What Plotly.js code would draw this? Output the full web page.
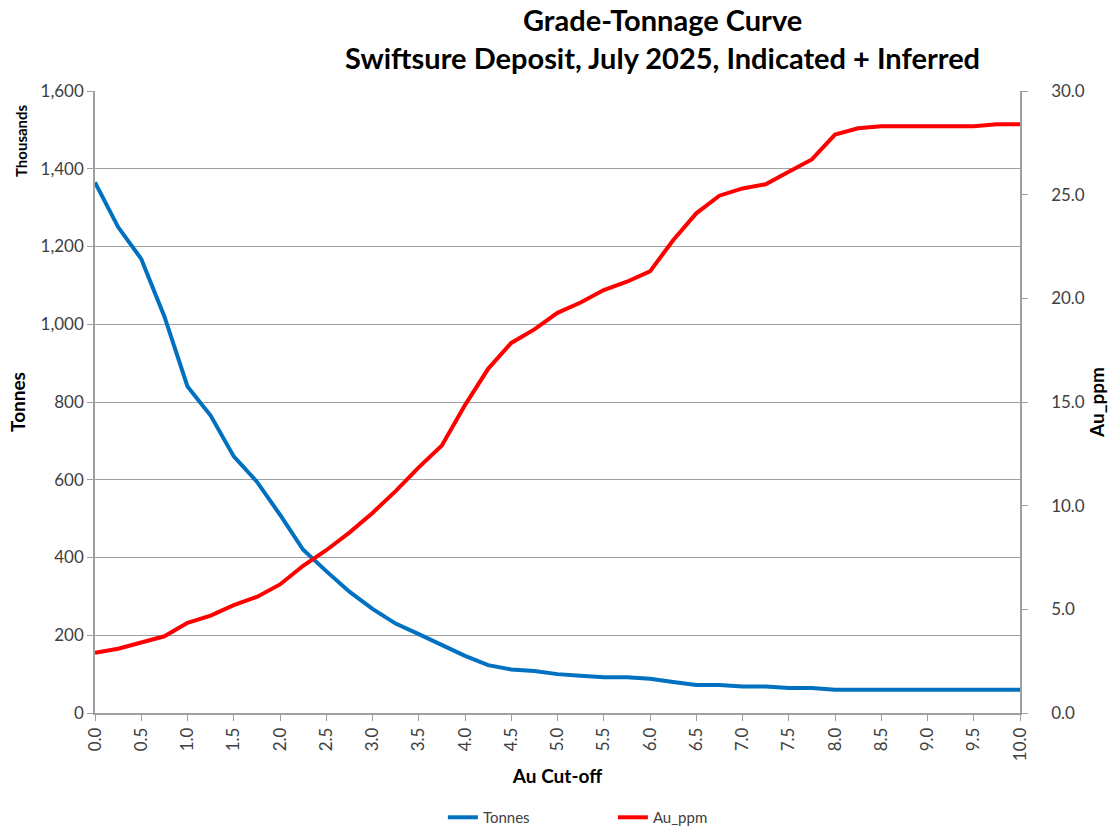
<!DOCTYPE html>
<html>
<head>
<meta charset="utf-8">
<script src="https://cdn.plot.ly/plotly-3.0.1.min.js"></script>
<style>body{margin:0;padding:0;background:#fff}#chart{width:1110px;height:830px}</style>
</head>
<body>
<div id="chart"></div>
<script>
const cutoff = [0.0,0.25,0.5,0.75,1.0,1.25,1.5,1.75,2.0,2.25,2.5,2.75,3.0,3.25,3.5,3.75,4.0,4.25,4.5,4.75,5.0,5.25,5.5,5.75,6.0,6.25,6.5,6.75,7.0,7.25,7.5,7.75,8.0,8.25,8.5,8.75,9.0,9.25,9.5,9.75,10.0];
const tonnesThousands = [1365,1250,1168,1020,840,765,660,595,510,420,365,312,268,230,203,175,147,123,112,108,100,96,92,92,88,80,72,72,68,68,64,64,60,60,60,60,60,60,60,60,60];
const auPpm = [2.9,3.1,3.4,3.7,4.35,4.7,5.2,5.6,6.2,7.1,7.85,8.7,9.65,10.7,11.85,12.9,14.85,16.6,17.85,18.5,19.3,19.8,20.4,20.8,21.3,22.8,24.1,24.95,25.3,25.5,26.1,26.7,27.9,28.2,28.3,28.3,28.3,28.3,28.3,28.4,28.4];
const titleLines = ["Grade-Tonnage Curve","Swiftsure Deposit, July 2025, Indicated + Inferred"];

const FONT = "Lato, 'Open Sans', sans-serif";
const traces = [
  {x: cutoff, y: tonnesThousands, name: "Tonnes", type: "scatter", mode: "lines",
   line: {color: "#0070C0", width: 4}, yaxis: "y"},
  {x: cutoff, y: auPpm, name: "Au_ppm", type: "scatter", mode: "lines",
   line: {color: "#FF0000", width: 4}, yaxis: "y2"}
];
const titleFont = {family: FONT, size: 29, color: "#000", weight: "bold"};
const axisTitleFont = {family: FONT, size: 19, color: "#000", weight: "bold"};
const tickFont = {family: FONT, size: 17, color: "#404040"};
const layout = {
  width: 1110, height: 830,
  margin: {l: 95, r: 90, t: 91, b: 117, autoexpand: false},
  paper_bgcolor: "#fff", plot_bgcolor: "#fff",
  font: {family: FONT, color: "#404040", size: 14},
  showlegend: true,
  legend: {orientation: "h", x: 0.3761, xanchor: "left", xref: "paper",
           yref: "container", y: 0.015, yanchor: "middle",
           entrywidth: 125, entrywidthmode: "pixels",
           font: {family: FONT, size: 15, color: "#404040"}},
  xaxis: {range: [0, 10], tickmode: "linear", tick0: 0, dtick: 0.5, tickformat: ".1f",
          tickangle: -90, ticks: "outside", ticklen: 6, tickcolor: "#a0a0a0",
          showline: true, linecolor: "#a0a0a0", linewidth: 1.5, showgrid: false, zeroline: false,
          tickfont: tickFont,
          title: {text: "Au Cut-off", font: axisTitleFont, standoff: 10}},
  yaxis: {range: [0, 1600], dtick: 200, tickformat: ",d", ticks: "outside", ticklen: 6, tickcolor: "#a0a0a0",
          showline: true, linecolor: "#a0a0a0", linewidth: 1.5, showgrid: true, gridcolor: "#a0a0a0", gridwidth: 1.2,
          zeroline: false, tickfont: tickFont,
          title: {text: "Tonnes", font: axisTitleFont, standoff: 10}},
  yaxis2: {range: [0, 30], dtick: 5, tickformat: ".1f", overlaying: "y", side: "right",
           ticks: "outside", ticklen: 6, tickcolor: "#a0a0a0", showline: true, linecolor: "#a0a0a0", linewidth: 1.5,
           ticklabelstandoff: 20,
           showgrid: false, zeroline: false, tickfont: tickFont,
           title: {text: "Au_ppm", font: axisTitleFont, standoff: 4}},
  annotations: [
    {text: titleLines[0], xref: "paper", yref: "paper", x: 0.6135, y: (713 - 19) / 622, xanchor: "center", yanchor: "middle",
     showarrow: false, font: titleFont},
    {text: titleLines[1], xref: "paper", yref: "paper", x: 0.6135, y: (713 - 58) / 622, xanchor: "center", yanchor: "middle",
     showarrow: false, font: titleFont},
    {text: "<b>Thousands</b>", xref: "paper", yref: "paper", x: -0.080, y: (713 - 141) / 622, xanchor: "center", yanchor: "middle",
     textangle: -90, showarrow: false, font: {family: FONT, size: 15, color: "#000"}}
  ]
};
Plotly.newPlot("chart", traces, layout, {displayModeBar: false, responsive: false});
</script>
</body>
</html>
